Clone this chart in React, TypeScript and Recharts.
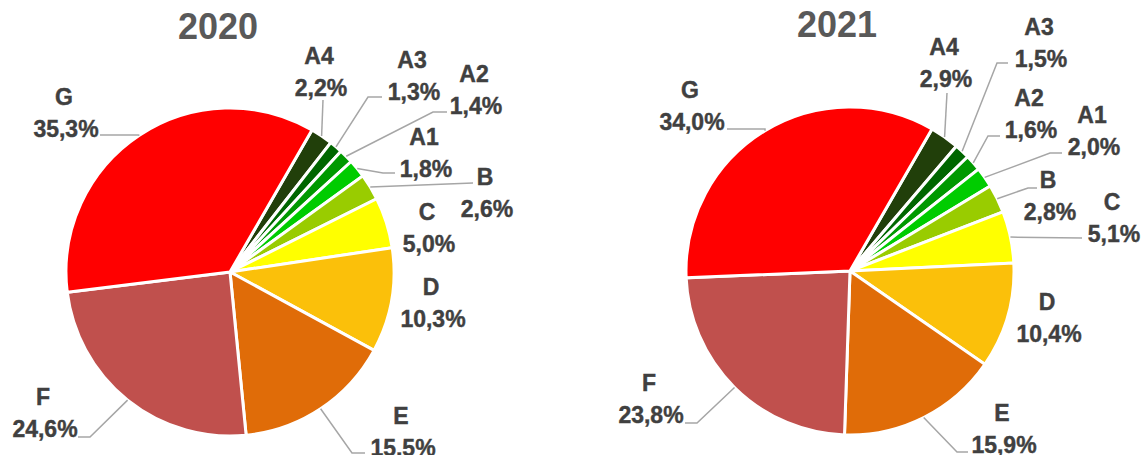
import React from 'react';
import { PieChart, Pie, Cell } from 'recharts';

const categories = ['A4', 'A3', 'A2', 'A1', 'B', 'C', 'D', 'E', 'F', 'G'];
const values2020 = [2.2, 1.3, 1.4, 1.8, 2.6, 5.0, 10.3, 15.5, 24.6, 35.3];
const values2021 = [2.9, 1.5, 1.6, 2.0, 2.8, 5.1, 10.4, 15.9, 23.8, 34.0];
const colors = ['#213F0A', '#006600', '#009900', '#00CC00', '#99CC00', '#FFFF00', '#FBC00A', '#E06C08', '#C0504D', '#FF0000'];

const data2020 = categories.map((name, i) => ({ name, value: values2020[i] }));
const data2021 = categories.map((name, i) => ({ name, value: values2021[i] }));

// manual label placement relative to pie centre: text (name line centre), leader elbow, leader end x
type LabelPos = { tx: number; ty: number; ex?: number; ey?: number; endX?: number };

const labels2020: LabelPos[] = [
  { tx: 89, ty: -216, ex: 93, ey: -172, endX: 93 },
  { tx: 182, ty: -212, ex: 138, ey: -175, endX: 152 },
  { tx: 244, ty: -198, ex: 203, ey: -160, endX: 217 },
  { tx: 194, ty: -135, ex: 153, ey: -99, endX: 165 },
  { tx: 255, ty: -95, ex: 243, ey: -89, endX: 243 },
  { tx: 197, ty: -60 },
  { tx: 201, ty: 15 },
  { tx: 171, ty: 144, ex: 122, ey: 181, endX: 135 },
  { tx: -187, ty: 125, ex: -140, ey: 165, endX: -152 },
  { tx: -166, ty: -175, ex: -92, ey: -137, endX: -130 },
];

const labels2021: LabelPos[] = [
  { tx: 94, ty: -224, ex: 97, ey: -178, endX: 97 },
  { tx: 189, ty: -244, ex: 147, ey: -208, endX: 158 },
  { tx: 179, ty: -173, ex: 138, ey: -135, endX: 150 },
  { tx: 242, ty: -156, ex: 200, ey: -118, endX: 212 },
  { tx: 198, ty: -91, ex: 178, ey: -83, endX: 187 },
  { tx: 262, ty: -69, ex: 232, ey: -33, endX: 232 },
  { tx: 197, ty: 31 },
  { tx: 152, ty: 142, ex: 107, ey: 181, endX: 118 },
  { tx: -201, ty: 112, ex: -153, ey: 152, endX: -165 },
  { tx: -160, ty: -181, ex: -85, ey: -142, endX: -123 },
];

const RADIAN = Math.PI / 180;
const FONT = '"Liberation Sans", Arial, sans-serif';

const fmt = (v: number) => v.toFixed(1).replace('.', ',') + '%';

const makeLabel = (pos: LabelPos[]) => (props: any) => {
  const { cx, cy, midAngle, outerRadius, index, name, value } = props;
  const p = pos[index];
  const sx = cx + outerRadius * Math.cos(-midAngle * RADIAN);
  const sy = cy + outerRadius * Math.sin(-midAngle * RADIAN);
  const tx = cx + p.tx;
  const ty = cy + p.ty;
  const textProps = {
    textAnchor: 'middle' as const,
    fill: '#404040',
    fontFamily: FONT,
    fontWeight: 'bold',
    fontSize: 23,
    stroke: '#404040',
    strokeWidth: 0.4,
  };
  return (
    <g key={`lbl-${index}`}>
      {p.ex !== undefined && (
        <polyline
          points={`${sx},${sy} ${cx + p.ex},${cy + (p.ey as number)} ${cx + (p.endX as number)},${cy + (p.ey as number)}`}
          fill="none"
          stroke="#A6A6A6"
          strokeWidth={1.5}
        />
      )}
      <text x={tx} y={ty + 8} {...textProps}>
        {name}
      </text>
      <text x={tx + 2} y={ty + 40} {...textProps}>
        {fmt(value)}
      </text>
    </g>
  );
};

const titleStyle: React.CSSProperties = {
  position: 'absolute',
  width: 200,
  textAlign: 'center',
  fontFamily: FONT,
  fontWeight: 'bold',
  fontSize: 36,
  lineHeight: '40px',
  color: '#595959',
};

export default function App() {
  return (
    <div style={{ position: 'absolute', left: 0, top: 0, width: 1143, height: 455, background: '#fff' }}>
      <PieChart width={1143} height={455} margin={{ top: 0, right: 0, bottom: 0, left: 0 }}>
        <Pie
          data={data2020}
          dataKey="value"
          nameKey="name"
          cx={230}
          cy={272}
          outerRadius={164}
          startAngle={60}
          endAngle={-300}
          stroke="#fff"
          strokeWidth={3}
          labelLine={false}
          label={makeLabel(labels2020)}
          isAnimationActive={false}
        >
          {data2020.map((d, i) => (
            <Cell key={d.name} fill={colors[i]} />
          ))}
        </Pie>
        <Pie
          data={data2021}
          dataKey="value"
          nameKey="name"
          cx={850}
          cy={271}
          outerRadius={164}
          startAngle={60}
          endAngle={-300}
          stroke="#fff"
          strokeWidth={3}
          labelLine={false}
          label={makeLabel(labels2021)}
          isAnimationActive={false}
        >
          {data2021.map((d, i) => (
            <Cell key={d.name} fill={colors[i]} />
          ))}
        </Pie>
      </PieChart>
      <div style={{ ...titleStyle, left: 118, top: 7 }}>2020</div>
      <div style={{ ...titleStyle, left: 737, top: 5 }}>2021</div>
    </div>
  );
}
